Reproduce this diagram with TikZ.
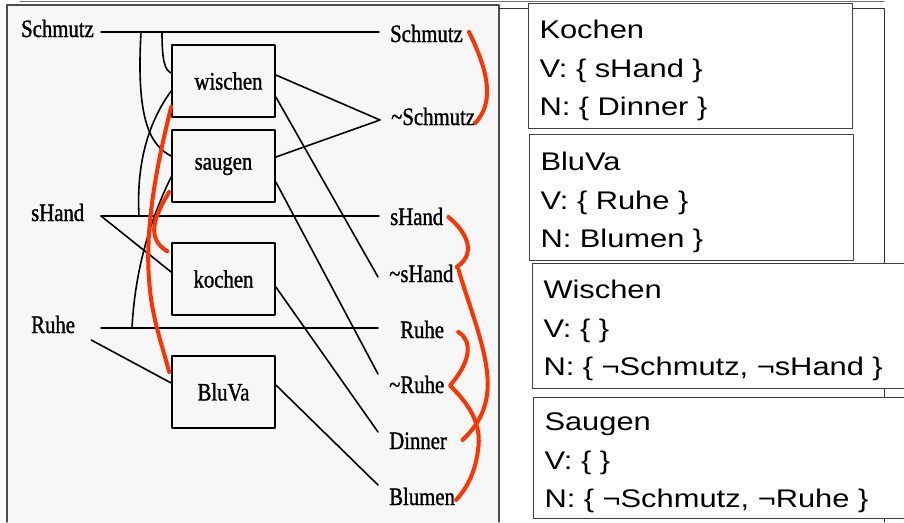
\documentclass[tikz,border=0pt]{standalone}
\usepackage{fontspec}
\setmainfont{Liberation Sans}
\newfontfamily\scanfont[FakeStretch=0.83, FakeBold=1.2]{Liberation Serif}
\newfontfamily\cardfont[FakeStretch=1.21]{Liberation Sans}
\usepackage{xcolor}
\usepackage{tikz}
\usetikzlibrary{calc}
\definecolor{redpen}{HTML}{FF3300}
\tikzset{
  act/.style={draw, line width=1.7pt, minimum width=103pt, minimum height=72pt, inner sep=0pt, font=\scanfont\fontsize{25}{27}\selectfont},
  fact/.style={anchor=base west, inner ysep=0pt, text height=15pt, text depth=5pt, font=\scanfont\fontsize{25}{27}\selectfont},
  lfact/.style={fact, inner xsep=7pt},
  rfact/.style={fact, inner xsep=11pt},
  link/.style={line width=1.6pt},
  redline/.style={draw=redpen, line width=4pt},
  card/.style={draw=black!75, line width=1pt, fill=white, anchor=north west, inner xsep=11pt, inner ysep=0pt, align=left, font=\cardfont\fontsize{25.5}{38.5}\selectfont},
  every picture/.style={line cap=round, line join=round}
}

\begin{document}
\begin{tikzpicture}[x=1pt, y=-1pt]
  \clip (0,0) rectangle (904,522);
  \fill[black!3] (7,5) rectangle (499,522);
  \draw[black!70, line width=1.3pt] (7,522) -- (7,5) -- (499,5) -- (499,522);
  \draw[black!55, line width=1.2pt] (20,1.5) -- (884,1.5);
  \draw[black!80, line width=0.9pt] (499,8) -- (884,8) -- (884,522);

  \node[lfact] (lSchmutz) at (14,37) {Schmutz};
  \node[lfact] (lsHand) at (24,221) {sHand};
  \node[lfact] (lRuhe) at (24,333) {Ruhe};
  \node[rfact] (rSchmutz) at (379,42) {Schmutz};
  \node[rfact] (rnSchmutz) at (380,125) {\textasciitilde Schmutz};
  \node[rfact] (rsHand) at (379,225) {sHand};
  \node[rfact] (rnsHand) at (378,282) {\textasciitilde sHand};
  \node[rfact] (rRuhe) at (389,338) {Ruhe};
  \node[rfact] (rnRuhe) at (378,393) {\textasciitilde Ruhe};
  \node[rfact] (rDinner) at (378,449) {Dinner};
  \node[rfact] (rBlumen) at (378,505) {Blumen};
  \node[act] (wischen) at (223.5,81) {\hspace*{10pt}wischen};
  \node[act] (saugen) at (223.5,166) {saugen};
  \node[act] (kochen) at (223.5,279) {kochen};
  \node[act] (BluVa) at (223.5,392) {BluVa};
  \coordinate (dropA) at (141,32);
  \coordinate (dropB) at (162,32);
  \coordinate (footC) at (139,216);
  \coordinate (footD) at (132,328);

  \draw[link] (lSchmutz.east) -- (lSchmutz.east -| rSchmutz.west);
  \draw[link] (lsHand.east -| lSchmutz.east) -- (lsHand.east -| rsHand.west);
  \draw[link] (lRuhe.east -| lSchmutz.east) -- (lRuhe.east -| rnRuhe.west);
  \draw[link] (lsHand.east -| lSchmutz.east) -- ([yshift=7pt]kochen.west);
  \draw[link] ([shift={(9pt,-12pt)}]lRuhe.east) -- ([yshift=9pt]BluVa.west);
  \draw[link] ([yshift=6pt]wischen.east) -- (rnSchmutz.west);
  \draw[link] ([yshift=9pt]saugen.east) -- (rnSchmutz.west);
  \draw[link] ([yshift=-16pt]wischen.east) -- (rnsHand.west);
  \draw[link] ([yshift=-16pt]saugen.east) -- ([yshift=14pt]rnRuhe.west);
  \draw[link] ([yshift=-8pt]kochen.east) -- ([yshift=12pt]rDinner.west);
  \draw[link] ([yshift=7pt]BluVa.east) -- ([yshift=15pt]rBlumen.west);
  \draw[link] (dropA) .. controls (136,120) and (150,145) .. ([yshift=10pt]saugen.west);
  \draw[link] (dropB) .. controls (162,62) and (165,70) .. ([yshift=8pt]wischen.west);
  \draw[link] ([yshift=-10pt]wischen.west) .. controls (150,120) and (136,160) .. (footC);
  \draw[link] ([yshift=-11pt]saugen.west) .. controls (150,220) and (135,270) .. (footD);

  \draw[redline] ([yshift=-26pt]wischen.west) .. controls (158,160) and (143,230) .. (150,290) .. controls (153,320) and (162,345) .. ([shift={(-2pt,20pt)}]BluVa.west);
  \draw[redline] ([shift={(-2pt,-26pt)}]saugen.west) .. controls (155,215) and (145,238) .. ([shift={(-4pt,-9pt)}]kochen.north west);
  \draw[redline] ([shift={(-5pt,5pt)}]rSchmutz.east) .. controls (485,65) and (497,100) .. ([shift={(-11pt,-3pt)}]rnSchmutz.east);
  \draw[redline] ([shift={(-6pt,3pt)}]rsHand.east) .. controls (470,235) and (475,255) .. ([shift={(-8pt,10pt)}]rnsHand.east);
  \draw[redline] ([shift={(-6pt,7pt)}]rnsHand.east) .. controls (470,310) and (492,360) .. (487,395) .. controls (484,415) and (475,428) .. ([shift={(4.5pt,4pt)}]rDinner.east);
  \draw[redline] ([shift={(3pt,1pt)}]rRuhe.east) .. controls (472,340) and (472,360) .. ([shift={(-5pt,3pt)}]rnRuhe.east);
  \draw[redline] ([shift={(-5pt,2pt)}]rnRuhe.east) .. controls (470,405) and (482,425) .. (478,450) .. controls (475,475) and (465,490) .. ([xshift=-10pt]rBlumen.east);

  \node[card, text width=302pt, text height=35pt, text depth=90pt] (kochenCard) at (528,3) {Kochen\\V: \{ sHand \}\\N: \{ Dinner \}};
  \node[card, text width=302pt, text height=36pt, text depth=90pt] (bluvaCard) at (529,134) {BluVa\\V: \{ Ruhe \}\\N: Blumen \}};
  \node[card, text width=361pt, text height=35pt, text depth=90pt] (wischenCard) at (532,263) {Wischen\\V: \{ \}\\N: \{ ¬Schmutz, ¬sHand \}};
  \node[card, text width=361pt, text height=33pt, text depth=88pt] (saugenCard) at (533,397) {Saugen\\V: \{ \}\\N: \{ ¬Schmutz, ¬Ruhe \}};
\end{tikzpicture}
\end{document}
